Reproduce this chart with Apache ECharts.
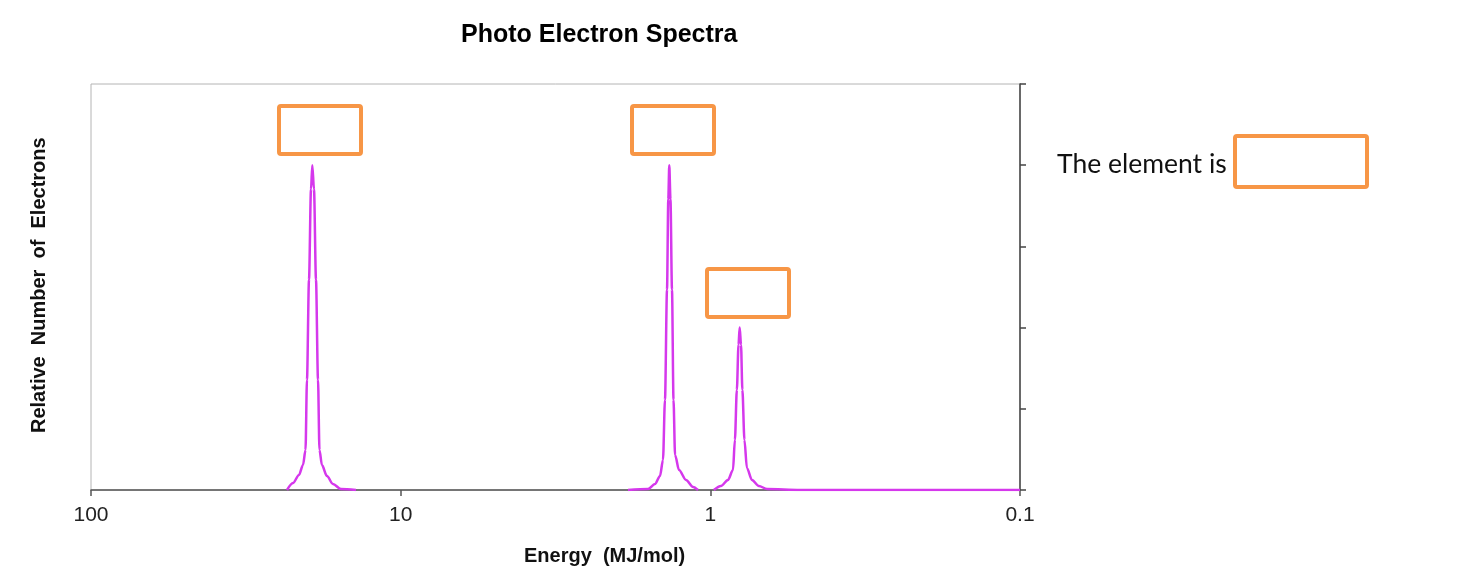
<!DOCTYPE html>
<html>
<head>
<meta charset="utf-8">
<title>Photo Electron Spectra</title>
<script src="https://cdn.jsdelivr.net/npm/echarts@6/dist/echarts.min.js"></script>
<style>
  html, body { margin: 0; padding: 0; background: #fff; }
  #chart { width: 1466px; height: 588px; }
</style>
</head>
<body>
<div id="chart"></div>
<script>
    // values: energy (MJ/mol) and relative number of electrons
    var peak1Energy = [23.28, 22.27, 21.30, 20.67, 20.29, 20.07, 19.77, 19.48, 19.29, 19.05, 18.77, 18.49, 18.29, 17.96, 17.30, 16.55, 15.59, 13.94];
    var peak1Count  = [0, 0.043, 0.093, 0.154, 0.247, 0.679, 1.296, 1.852, 2.0, 1.852, 1.296, 0.679, 0.247, 0.154, 0.086, 0.037, 0.006, 0];

    var peak2Energy = [1.845, 1.590, 1.509, 1.454, 1.422, 1.401, 1.380, 1.367, 1.357, 1.345, 1.330, 1.315, 1.300, 1.262, 1.198, 1.137, 1.096];
    var peak2Count  = [0, 0.006, 0.037, 0.086, 0.185, 0.556, 1.235, 1.790, 2.0, 1.790, 1.235, 0.556, 0.216, 0.123, 0.062, 0.019, 0];

    var peak3Energy = [0.974, 0.924, 0.877, 0.845, 0.833, 0.821, 0.811, 0.804, 0.796, 0.788, 0.776, 0.762, 0.734, 0.697, 0.656, 0.513, 0.3, 0.1];
    var peak3Count  = [0, 0.025, 0.062, 0.123, 0.309, 0.617, 0.895, 1.0, 0.895, 0.617, 0.309, 0.136, 0.062, 0.025, 0.006, 0, 0, 0];

    var energyTicks = [100, 10, 1, 0.1];

    function pairs(xs, ys) {
        return xs.map(function (x, i) { return [x, ys[i]]; });
    }

    var lineColor = '#d538ec';
    var boxStyle = { stroke: '#f79646', lineWidth: 4, fill: 'transparent' };
    var font = 'Liberation Sans, Arial, sans-serif';

    function peakSeries(name, data) {
        return {
            name: name,
            type: 'line',
            data: data,
            showSymbol: false,
            smooth: 0.3,
            smoothMonotone: 'x',
            lineStyle: { color: lineColor, width: 2.5 },
            silent: true,
            z: 3
        };
    }

    var myChart = echarts.init(document.getElementById('chart'));
    option = {
        animation: false,
        title: {
            text: 'Photo Electron Spectra',
            left: 456,
            top: 18,
            textStyle: { fontFamily: font, fontSize: 25, fontWeight: 'bold', color: '#000' }
        },
        grid: {
            left: 91,
            right: 446,
            top: 84,
            bottom: 98,
            show: true,
            borderColor: '#b4b4b4',
            borderWidth: 1
        },
        xAxis: {
            type: 'log',
            logBase: 10,
            min: 0.1,
            max: 100,
            inverse: true,
            axisLine: { lineStyle: { color: '#555', width: 1.5 } },
            axisTick: { length: 6, lineStyle: { color: '#555', width: 1.5 } },
            minorTick: { show: false },
            splitLine: { show: false },
            axisLabel: {
                margin: 15,
                fontFamily: font,
                fontSize: 21,
                color: '#222',
                formatter: function (v) {
                    var hit = energyTicks.filter(function (t) { return Math.abs(t - v) / t < 1e-6; });
                    return hit.length ? String(hit[0]) : '';
                }
            }
        },
        yAxis: {
            type: 'value',
            position: 'right',
            min: 0,
            max: 2.5,
            interval: 0.5,
            axisLine: { show: true, lineStyle: { color: '#444', width: 1.5 } },
            axisTick: { show: true, inside: false, length: 6, lineStyle: { color: '#444', width: 1.5 } },
            axisLabel: { show: false },
            splitLine: { show: false }
        },
        series: [
            peakSeries('1s', pairs(peak1Energy, peak1Count)),
            peakSeries('2s', pairs(peak2Energy, peak2Count)),
            peakSeries('2p', pairs(peak3Energy, peak3Count))
        ],
        graphic: [
            {
                type: 'text',
                left: 524,
                top: 546,
                style: { text: 'Energy  (MJ/mol)', font: 'bold 20px ' + font, fill: '#111' }
            },
            {
                type: 'text',
                x: 29,
                y: 433,
                rotation: Math.PI / 2,
                style: { text: 'Relative  Number  of  Electrons', font: 'bold 20px ' + font, fill: '#111', textVerticalAlign: 'top' }
            },
            { type: 'rect', shape: { x: 279, y: 106, width: 82, height: 48, r: 2 }, style: boxStyle },
            { type: 'rect', shape: { x: 632, y: 106, width: 82, height: 48, r: 2 }, style: boxStyle },
            { type: 'rect', shape: { x: 707, y: 269, width: 82, height: 48, r: 2 }, style: boxStyle },
            { type: 'rect', shape: { x: 1235, y: 136, width: 132, height: 51, r: 2 }, style: boxStyle },
            {
                type: 'text',
                left: 1057,
                top: 151,
                style: { text: 'The element is', font: '26.5px Lato, "Noto Sans", sans-serif', fill: '#111' }
            }
        ]
    };
    myChart.setOption(option);
</script>
</body>
</html>
